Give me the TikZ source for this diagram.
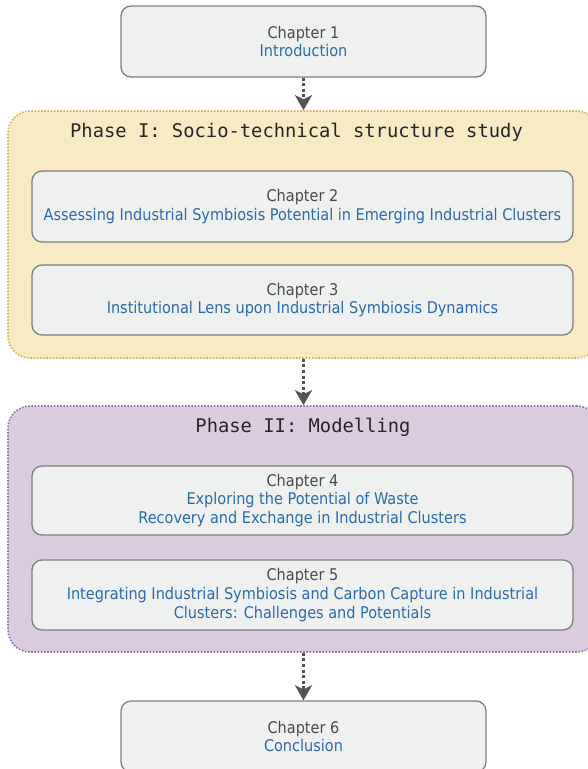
\documentclass[tikz,border=0pt]{standalone}
\usepackage{fontspec}
\usetikzlibrary{arrows.meta}
\newfontfamily\boxfont{DejaVu Sans Condensed}
\newfontfamily\titlefont{DejaVu Sans Mono}
\definecolor{boxfill}{HTML}{EFF0F0}
\definecolor{boxline}{HTML}{7F7F7F}
\definecolor{chapgray}{HTML}{4A4A4A}
\definecolor{titleblue}{HTML}{2C6AB0}
\definecolor{yelfill}{HTML}{F8EBC4}
\definecolor{yelline}{HTML}{D4B45A}
\definecolor{purfill}{HTML}{DACBDF}
\definecolor{purline}{HTML}{9170A2}
\definecolor{arrgray}{HTML}{555555}
\newcommand{\bt}[1]{\textcolor{titleblue}{#1}}
\tikzset{
  chapbox/.style={draw=boxline, line width=1.3pt, fill=boxfill, rounded corners=10pt,
    inner sep=0pt, align=center, text=chapgray,
    font=\boxfont\fontsize{16.1pt}{18.7pt}\selectfont},
  phasebox/.style={line width=1.6pt, dash pattern=on 1.6pt off 1.6pt, rounded corners=22pt, inner sep=0pt},
  phasetitle/.style={font=\titlefont\fontsize{18.8pt}{22pt}\selectfont, text=black!85, inner sep=0pt},
  flow/.style={draw=arrgray, line width=3pt, dash pattern=on 3pt off 2.6pt,
    -{Stealth[length=15pt,width=17pt,inset=4pt,fill=arrgray]}}
}
\begin{document}
\begin{tikzpicture}[x=1pt,y=-1pt]
\useasboundingbox (0,0) rectangle (588,769);
% containers
\node[phasebox, draw=yelline, fill=yelfill, minimum width=591pt, minimum height=247pt] (phase1) at (303.5,234.5) {};
\node[phasebox, draw=purline, fill=purfill, minimum width=591pt, minimum height=246pt] (phase2) at (303.5,529) {};
\node[phasetitle] (t1) at (296.5,132) {Phase I: Socio-technical structure study};
\node[phasetitle] (t2) at (303,427) {Phase II: Modelling};
% chapters
\node[chapbox, minimum width=365pt, minimum height=71pt] (ch1) at (303.5,41.5) {Chapter 1\\\bt{Introduction}};
\node[chapbox, minimum width=541pt, minimum height=71pt] (ch2) at (302.5,206.5) {Chapter 2\\\bt{Assessing Industrial Symbiosis Potential in Emerging Industrial Clusters}};
\node[chapbox, minimum width=541pt, minimum height=70pt] (ch3) at (302.5,300) {Chapter 3\\\bt{Institutional Lens upon Industrial Symbiosis Dynamics}};
\node[chapbox, minimum width=541pt, minimum height=69pt] (ch4) at (302.5,500.5) {Chapter 4\\\bt{Exploring the Potential of Waste}\\\bt{Recovery and Exchange in Industrial Clusters}};
\node[chapbox, minimum width=541pt, minimum height=70pt] (ch5) at (302.5,595) {Chapter 5\\\bt{Integrating Industrial Symbiosis and Carbon Capture in Industrial}\\\bt{Clusters: Challenges and Potentials}};
\node[chapbox, minimum width=365pt, minimum height=71pt] (ch6) at (303.5,736.5) {Chapter 6\\\bt{Conclusion}};
% connectors
\draw[flow] (ch1.south) -- (phase1.north);
\draw[flow] (phase1.south) -- (phase2.north);
\draw[flow] (phase2.south) -- (ch6.north);
\end{tikzpicture}
\end{document}
